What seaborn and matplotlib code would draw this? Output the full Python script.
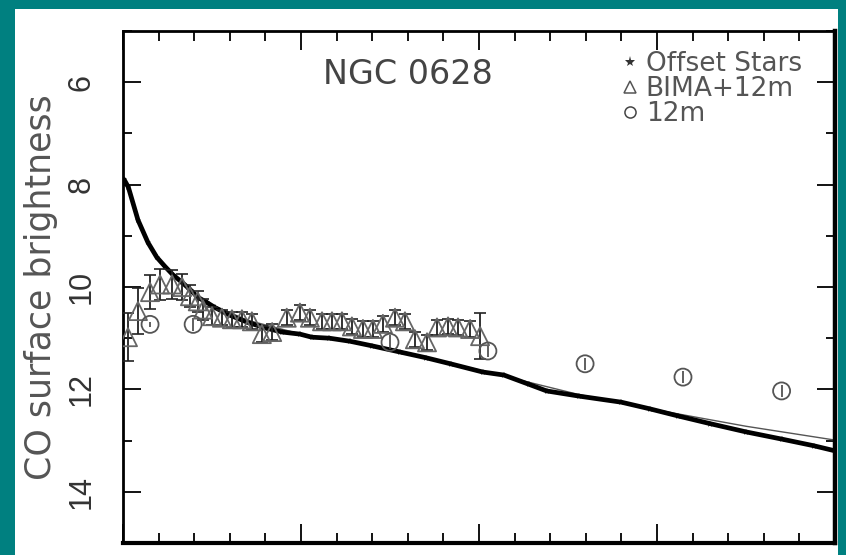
import matplotlib
matplotlib.use("Agg")
import matplotlib.pyplot as plt
from matplotlib.lines import Line2D
from matplotlib.patches import Rectangle
from matplotlib.ticker import MultipleLocator
import numpy as np
import pandas as pd
import seaborn as sns

# radial profile of NGC 0628 (radius in arbitrary units, magnitude-like brightness)
star_r = [0.3, 1.5, 4.2, 7, 9.5, 11.8, 14, 16.6, 19, 21, 23.5, 25.8, 30, 35, 40,
          44.7, 49.7, 53, 58, 63.8, 70, 77.8, 85, 92, 101, 107, 114, 119, 128,
          140, 148, 156, 165, 175, 185, 194, 200]
star_mag = [7.9, 8.05, 8.69, 9.13, 9.42, 9.6, 9.76, 9.91, 10.06, 10.2, 10.3, 10.4,
            10.55, 10.69, 10.8, 10.88, 10.92, 10.98, 11.0, 11.06, 11.15, 11.27,
            11.38, 11.5, 11.66, 11.72, 11.9, 12.03, 12.13, 12.25, 12.38, 12.52,
            12.67, 12.83, 12.97, 13.1, 13.2]

fit_r = [18, 25, 35, 50, 75, 100, 128, 156, 175, 200]
fit_mag = [10.05, 10.35, 10.65, 10.92, 11.2, 11.62, 12.1, 12.48, 12.72, 12.99]

bima_r = [1.4, 4.2, 7.6, 10.4, 13.8, 16.6, 18.8, 21, 22.5, 25, 27.8, 30.6, 33.4,
          36.2, 39, 41.9, 46, 49.7, 52.5, 55.9, 58.7, 61.5, 64.3, 67.4, 70.2, 73,
          76.4, 79.2, 82, 85.4, 88.2, 91.3, 94.1, 97.5, 100.3]
bima_mag = [10.98, 10.47, 10.1, 9.95, 9.95, 10.0, 10.18, 10.28, 10.44, 10.57, 10.6,
            10.63, 10.63, 10.67, 10.92, 10.88, 10.6, 10.5, 10.6, 10.67, 10.67, 10.67,
            10.77, 10.82, 10.82, 10.72, 10.6, 10.67, 11.02, 11.08, 10.79, 10.77,
            10.79, 10.82, 10.96]
bima_err = [0.47, 0.45, 0.33, 0.3, 0.28, 0.25, 0.22, 0.2, 0.2, 0.18, 0.15, 0.15,
            0.15, 0.15, 0.15, 0.15, 0.15, 0.15, 0.15, 0.15, 0.15, 0.15, 0.15, 0.15,
            0.15, 0.15, 0.15, 0.15, 0.15, 0.15, 0.15, 0.15, 0.15, 0.15, 0.45]

s12_r = [7.6, 19.7, 75, 102.5, 129.8, 157.3, 185]
s12_mag = [10.73, 10.73, 11.08, 11.25, 11.5, 11.76, 12.03]
s12_err = [0.05, 0.12, 0.14, 0.12, 0.12, 0.12, 0.12]

sns.set_theme(style="ticks")
plt.rcParams["font.family"] = ["Liberation Sans", "DejaVu Sans"]
wide = ["DejaVu Sans"]

fig = plt.figure(figsize=(8.46, 5.55), dpi=100)
fig.patch.set_facecolor("#008080")
panel = Rectangle((15 / 846, 0), 823 / 846, 546 / 555, transform=fig.transFigure,
                  facecolor="white", edgecolor="none", zorder=-10)
fig.add_artist(panel)
ax = fig.add_axes([123 / 846, 12 / 555, 712 / 846, 512 / 555])
ax.set_facecolor("white")

stars = pd.DataFrame({"r": star_r, "mag": star_mag})
fit = pd.DataFrame({"r": fit_r, "mag": fit_mag})
bima = pd.DataFrame({"r": bima_r, "mag": bima_mag, "err": bima_err})
s12 = pd.DataFrame({"r": s12_r, "mag": s12_mag, "err": s12_err})

sns.lineplot(data=fit, x="r", y="mag", color="#555555", lw=1.0, ax=ax, zorder=2)
sns.lineplot(data=stars, x="r", y="mag", color="black", lw=3.4, marker="*",
             markersize=5, markeredgewidth=0, ax=ax, zorder=3)

ax.errorbar(bima["r"], bima["mag"], yerr=bima["err"], fmt="none", ecolor="#222222",
            elinewidth=1.3, capsize=4, capthick=1.2, zorder=4)
sns.scatterplot(data=bima, x="r", y="mag", marker="^", s=170, facecolor="none",
                edgecolor="#666666", linewidth=1.3, ax=ax, zorder=5)

ax.errorbar(s12["r"], s12["mag"], yerr=s12["err"], fmt="none", ecolor="#444444",
            elinewidth=1.2, zorder=4)
sns.scatterplot(data=s12, x="r", y="mag", marker="o", s=150, facecolor="none",
                edgecolor="#555555", linewidth=1.3, ax=ax, zorder=5)

ax.set_xlim(0, 200)
ax.set_ylim(15, 5)
ax.xaxis.set_major_locator(MultipleLocator(50))
ax.xaxis.set_minor_locator(MultipleLocator(10))
ax.yaxis.set_major_locator(MultipleLocator(2))
ax.yaxis.set_minor_locator(MultipleLocator(1))
ax.tick_params(which="both", direction="in", top=True, right=True, color="black",
               width=1.3)
ax.tick_params(axis="x", which="major", length=14)
ax.tick_params(axis="x", which="minor", length=7.5)
ax.tick_params(axis="y", which="major", length=13)
ax.tick_params(axis="y", which="minor", length=6.5)
ax.tick_params(axis="x", labelbottom=False)
ax.tick_params(axis="y", labelsize=22, labelcolor="#333333", labelrotation=90, pad=19)
for lab in ax.get_yticklabels():
    lab.set_va("center")

for side, w in [("left", 2.0), ("top", 2.0), ("right", 3.2), ("bottom", 3.0)]:
    ax.spines[side].set_visible(True)
    ax.spines[side].set_linewidth(w)
    ax.spines[side].set_color("black")

ax.set_xlabel("")
ax.set_ylabel("CO surface brightness", fontsize=25, color="#555555", family=wide)
ax.yaxis.set_label_coords(-0.091, 0.5)

ax.text(0.40, 0.916, "NGC 0628", transform=ax.transAxes, ha="center", va="center",
        fontsize=24, color="#444444", family=wide)

handles = [
    Line2D([], [], ls="none", marker="*", color="#333333", markersize=8, markeredgewidth=0),
    Line2D([], [], ls="none", marker="^", markerfacecolor="none", markeredgecolor="#555555",
           markersize=8, markeredgewidth=1.1),
    Line2D([], [], ls="none", marker="o", markerfacecolor="none", markeredgecolor="#444444",
           markersize=8, markeredgewidth=1.1),
]
leg = ax.legend(handles, ["Offset Stars", "BIMA+12m", "12m"], loc="upper left",
                bbox_to_anchor=(0.686, 0.982), frameon=False,
                prop={"family": wide, "size": 19},
                labelcolor="#555555", handlelength=0.6, handletextpad=0.3,
                labelspacing=-0.03, borderaxespad=0.0)

fig.savefig("out.png", dpi=100, facecolor=fig.get_facecolor())
